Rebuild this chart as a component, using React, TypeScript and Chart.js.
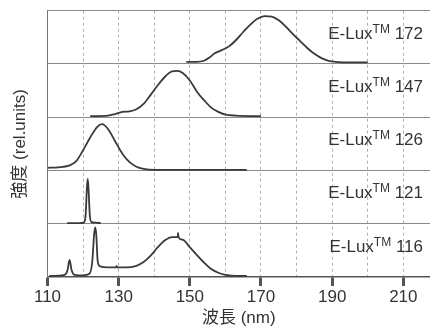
import React, { useEffect, useRef } from 'react';
import { Chart, registerables } from 'chart.js';

Chart.register(...registerables);

// Panels from bottom to top
const panelNames = ['116', '121', '126', '147', '172'];

const wl116 = [110.5, 114.8, 115.6, 116.2, 116.8, 117.6, 120, 121.8, 122.6, 123.1, 123.4, 123.7, 124.1, 124.8, 127, 129.3, 129.4, 129.5, 132, 135, 137, 139, 141, 143, 145, 146.6, 146.7, 146.8, 148, 150, 152, 154, 156, 158, 160, 163, 166];
const int116 = [0.02, 0.04, 0.12, 0.32, 0.12, 0.04, 0.03, 0.06, 0.3, 0.8, 0.93, 0.8, 0.3, 0.2, 0.18, 0.18, 0.21, 0.18, 0.18, 0.21, 0.28, 0.4, 0.56, 0.69, 0.75, 0.75, 0.83, 0.75, 0.7, 0.56, 0.41, 0.27, 0.15, 0.08, 0.04, 0.02, 0.02];

const wl121 = [115.5, 119, 120.2, 120.7, 121.1, 121.3, 121.5, 121.9, 122.4, 123.5, 125];
const int121 = [0.01, 0.01, 0.02, 0.15, 0.7, 0.84, 0.7, 0.15, 0.03, 0.02, 0.01];

const wl126 = [110, 113, 116, 118, 120, 122, 124, 125.3, 127, 129, 131, 133, 135, 137, 140, 166];
const int126 = [0.05, 0.06, 0.09, 0.17, 0.38, 0.62, 0.82, 0.87, 0.78, 0.55, 0.32, 0.16, 0.07, 0.03, 0.01, 0.01];

const wl147 = [122, 127, 129, 131, 133, 135, 137, 139, 141, 143, 145, 146.5, 148, 150, 152, 154, 156, 158, 160, 163, 170];
const int147 = [0.02, 0.03, 0.06, 0.1, 0.11, 0.15, 0.25, 0.42, 0.6, 0.76, 0.86, 0.87, 0.83, 0.69, 0.48, 0.32, 0.18, 0.1, 0.05, 0.03, 0.02];

const wl172 = [149, 152, 154, 155.5, 157, 159, 161, 163, 165, 167, 169, 171, 173, 175, 177, 179, 181, 183, 185, 187, 189, 191, 195, 200];
const int172 = [0.04, 0.04, 0.06, 0.12, 0.2, 0.26, 0.33, 0.45, 0.6, 0.74, 0.85, 0.9, 0.89, 0.82, 0.7, 0.56, 0.43, 0.3, 0.19, 0.11, 0.06, 0.04, 0.03, 0.03];

const gridTicks = [110, 120, 130, 140, 150, 160, 170, 180, 190, 200, 210];
const labeledTicks = [110, 130, 150, 170, 190, 210];

const FONT = "'Liberation Sans', 'Noto Sans CJK JP', sans-serif";

export default function App() {
  const ref = useRef<HTMLCanvasElement>(null);

  useEffect(() => {
    document.body.style.margin = '0';
    const series = [
      [wl116, int116],
      [wl121, int121],
      [wl126, int126],
      [wl147, int147],
      [wl172, int172],
    ];
    const datasets = series.map(([xs, ys], i) => ({
      data: xs.map((x, k) => ({ x, y: i + ys[k] })),
      borderColor: '#3a3a3a',
      borderWidth: 1.8,
      pointRadius: 0,
      cubicInterpolationMode: 'monotone' as const,
      fill: false,
    }));

    const labelPlugin = {
      id: 'panelLabels',
      afterDatasetsDraw(chart: any) {
        const { ctx, scales } = chart;
        const y = scales.y;
        const right = chart.chartArea.right - 7;
        const mainSize = 17;
        const supSize = 12;
        ctx.save();
        ctx.fillStyle = '#333';
        ctx.textBaseline = 'alphabetic';
        ctx.textAlign = 'left';
        panelNames.forEach((name, i) => {
          const base = y.getPixelForValue(i + 0.59) + 0.358 * mainSize;
          const mainFont = `${mainSize}px ${FONT}`;
          const supFont = `${supSize}px ${FONT}`;
          ctx.font = mainFont;
          const w1 = ctx.measureText('E-Lux').width;
          const w3 = ctx.measureText(' ' + name).width;
          ctx.font = supFont;
          const w2 = ctx.measureText('TM').width;
          let x = right - (w1 + w2 + w3);
          ctx.font = mainFont;
          ctx.fillText('E-Lux', x, base);
          x += w1;
          ctx.font = supFont;
          ctx.fillText('TM', x, base - 6);
          x += w2;
          ctx.font = mainFont;
          ctx.fillText(' ' + name, x, base);
        });
        ctx.restore();
      },
    };

    const chart = new Chart(ref.current as HTMLCanvasElement, {
      type: 'line',
      data: { datasets },
      options: {
        animation: false,
        responsive: false,
        layout: { padding: { top: 10.7, bottom: 5.6, left: 0, right: 0 } },
        plugins: { legend: { display: false }, tooltip: { enabled: false } },
        scales: {
          x: {
            type: 'linear',
            min: 110,
            max: 217.5,
            afterBuildTicks: (s: any) => {
              s.ticks = gridTicks.map((v) => ({ value: v }));
            },
            ticks: {
              autoSkip: false,
              maxRotation: 0,
              padding: 2,
              color: '#333',
              font: { family: FONT, size: 17, lineHeight: 1.1 },
              callback: (v: any) => (labeledTicks.includes(Number(v)) ? String(v) : ''),
            },
            grid: {
              color: '#b0b0b0',
              lineWidth: 1,
              drawTicks: true,
              tickLength: 9,
              tickColor: '#555',
              tickWidth: (c: any) => (c.tick && labeledTicks.includes(c.tick.value) ? 3 : 0),
            },
            border: { display: true, color: '#555', width: 1.5, dash: [3, 3] },
            title: {
              display: true,
              text: '波長 (nm)',
              color: '#333',
              padding: 0,
              font: { family: FONT, size: 17, lineHeight: 1.1 },
            },
          },
          y: {
            min: 0,
            max: 5,
            ticks: { display: false, stepSize: 1 },
            grid: {
              drawTicks: false,
              lineWidth: 1,
              color: (c: any) => (c.tick && c.tick.value === 0 ? 'rgba(0,0,0,0)' : '#8a8a8a'),
            },
            border: { display: true, color: '#777', width: 1 },
            title: {
              display: true,
              text: '強度 (rel.units)',
              color: '#333',
              padding: { top: 11, bottom: 17.8 },
              font: { family: FONT, size: 17, lineHeight: 1.1 },
            },
          },
        },
      },
      plugins: [labelPlugin],
    });
    return () => chart.destroy();
  }, []);

  return (
    <div style={{ width: 430, height: 333 }}>
      <canvas ref={ref} width={430} height={333} style={{ display: 'block' }} />
    </div>
  );
}
